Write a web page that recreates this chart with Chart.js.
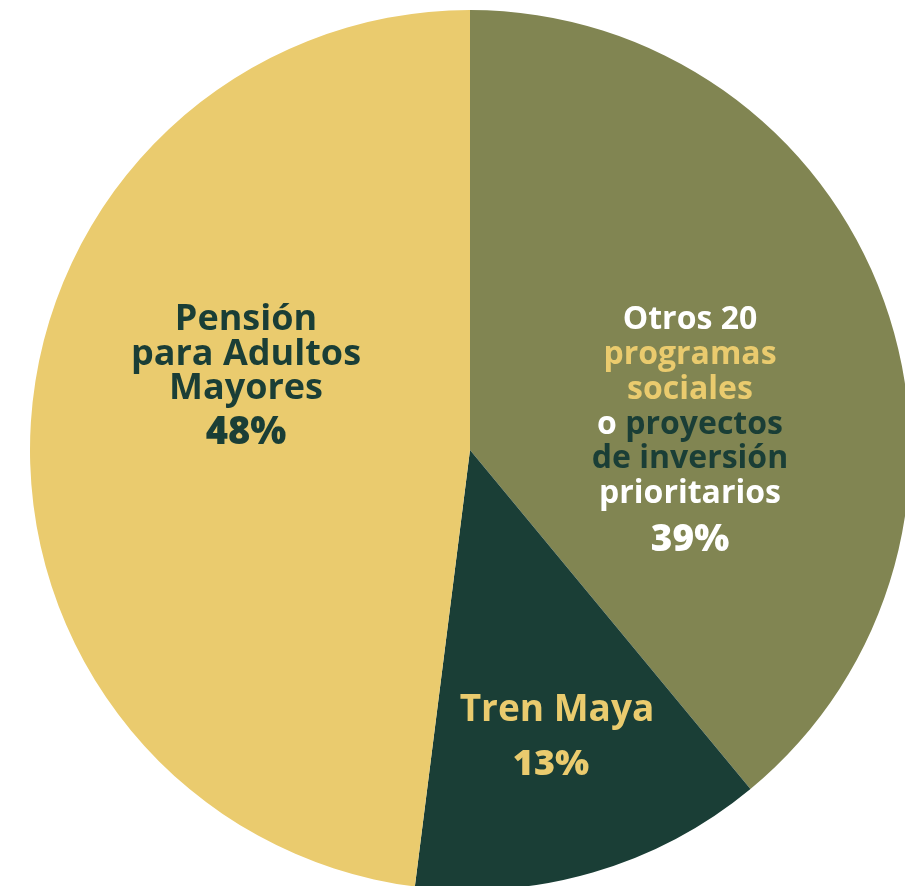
<!DOCTYPE html>
<html>
<head>
<meta charset="utf-8">
<script src="https://cdn.jsdelivr.net/npm/chart.js@4"></script>
<style>
  html, body { margin: 0; padding: 0; background: #ffffff; overflow: hidden; width: 905px; height: 886px; }
  #wrap { position: absolute; left: 30px; top: 10px; width: 880px; height: 880px; }
</style>
</head>
<body>
<div id="wrap"><canvas id="chartPie"></canvas></div>
<script>
// ===========================
// Datos
// ===========================
const categorias = ["Otros 20 programas sociales o proyectos de inversión prioritarios", "Tren Maya", "Pensión para Adultos Mayores"];
const valores = [39, 13, 48];
const colores = ["#818552", "#1a3e36", "#eacb6e"];

const BLANCO = "#ffffff";
const AMARILLO = "#eacb6e";
const VERDE = "#1a3e36";

// lineas de texto de cada rebanada: [texto, color]
const textoOtros = [
  [["Otros 20", BLANCO]],
  [["programas", AMARILLO]],
  [["sociales", AMARILLO]],
  [["o ", BLANCO], ["proyectos", VERDE]],
  [["de inversión", VERDE]],
  [["prioritarios", BLANCO]]
];
const textoTren = [[["Tren Maya", AMARILLO]]];
const textoPension = [
  [["Pensión", VERDE]],
  [["para Adultos", VERDE]],
  [["Mayores", VERDE]]
];

// ===========================
// Etiquetas
// ===========================
function drawLines(ctx, lines, cx, y0, step, size, weight) {
  ctx.font = `${weight || 700} ${size}px 'Open Sans', sans-serif`;
  ctx.textBaseline = "middle";
  ctx.textAlign = "left";
  lines.forEach((line, i) => {
    const total = line.reduce((w, p) => w + ctx.measureText(p[0]).width, 0);
    let x = cx - total / 2;
    line.forEach(p => {
      ctx.fillStyle = p[1];
      ctx.fillText(p[0], x, y0 + i * step);
      x += ctx.measureText(p[0]).width;
    });
  });
}

const labelPlugin = {
  id: "labelPlugin",
  afterDraw(chart) {
    const ctx = chart.ctx;
    const arcs = chart.getDatasetMeta(0).data;
    const cx = arcs[0].x, cy = arcs[0].y; // centro
    ctx.save();
    ctx.translate(cx - 440 - 30, cy - 440 - 10); // coords de la pagina
    drawLines(ctx, textoOtros, 690, 320, 34.8, 32);
    drawLines(ctx, [[[valores[0] + "%", BLANCO]]], 690, 540, 0, 37, 800);
    drawLines(ctx, textoTren, 557, 710, 0, 37);
    drawLines(ctx, [[[valores[1] + "%", AMARILLO]]], 551, 765, 0, 36, 800);
    drawLines(ctx, textoPension, 246, 320, 34.5, 36);
    drawLines(ctx, [[[valores[2] + "%", VERDE]]], 246, 433, 0, 38, 800);
    ctx.restore();
  }
};

const chartPie = new Chart(document.getElementById("chartPie").getContext("2d"), {
  type: "pie",
  data: {
    labels: categorias,
    datasets: [{
      data: valores,
      backgroundColor: colores,
      borderWidth: 0
    }]
  },
  options: {
    responsive: true,
    maintainAspectRatio: false,
    animation: false,
    layout: { padding: 0 },
    plugins: {
      legend: { display: false },
      tooltip: { enabled: false }
    }
  },
  plugins: [labelPlugin]
});
</script>
</body>
</html>
